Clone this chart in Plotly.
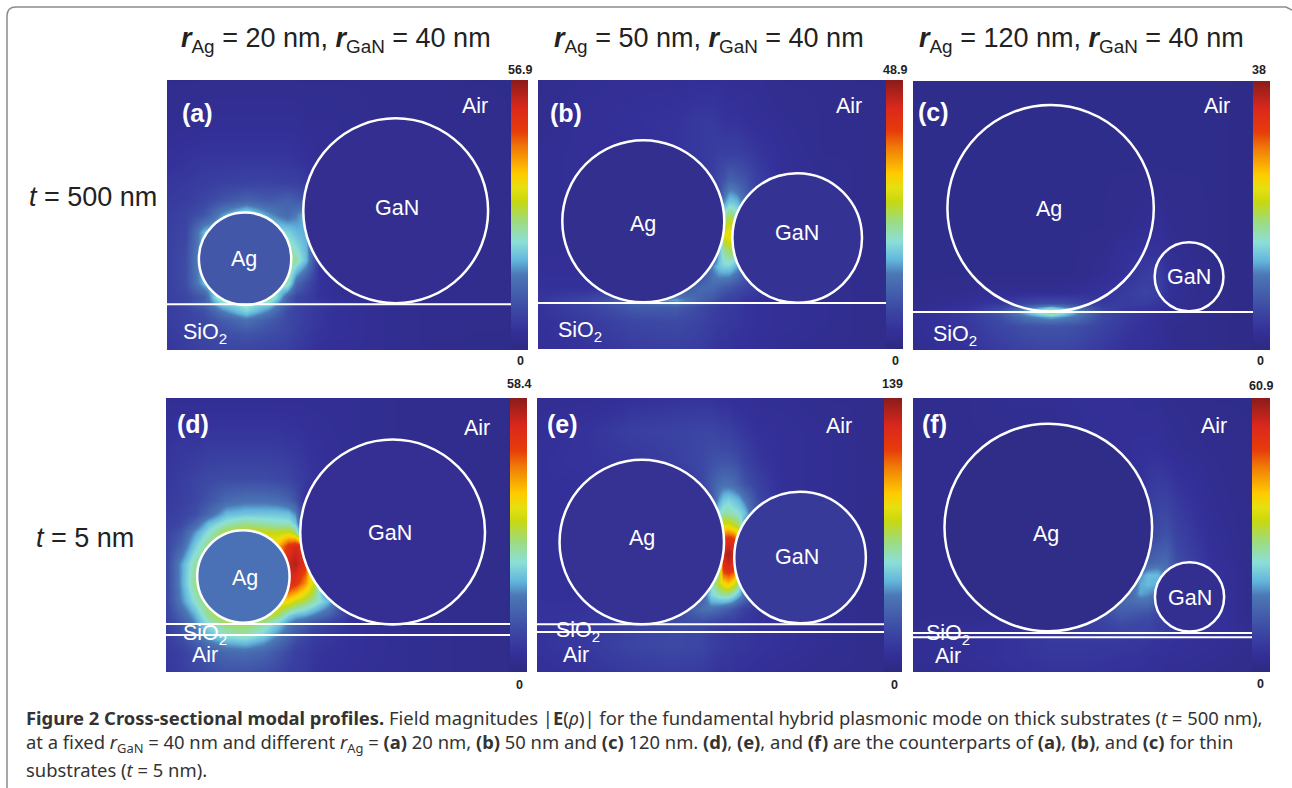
import plotly.graph_objects as go

W, H = 1292, 788

# ---- colour scale ------------------------------------------------------
COLORSCALE = [
    [0.00, "#2c2a80"], [0.07, "#34309a"], [0.155, "#3d4aa5"], [0.28, "#4c78b5"], [0.33, "#62b5dc"],
    [0.40, "#8cdfd8"], [0.475, "#9cdc80"], [0.55, "#c8d810"], [0.60, "#e5e010"],
    [0.65, "#ffcc00"], [0.75, "#f07a08"], [0.81, "#e63c0a"], [0.895, "#dc281c"],
    [1.00, "#8a1c1a"],
]

# ---- bar maxima -----------------------------------------------------------
MAX_A, MAX_B, MAX_C, MAX_D, MAX_E, MAX_F = 56.9, 48.9, 38, 58.4, 139, 60.9

# ---- fields: sampled in nm, values as percent of each panel's colour bar ----
A_X = [0, 8, 16, 24, 34, 44, 52, 56, 60, 66, 72, 90, 110, 130, 149]
A_Y = [0, 20, 34, 44, 52, 58, 66, 78, 88, 94, 97, 100, 104, 110, 117]
A_Z = [
    [4, 4, 4, 4, 4, 4, 4, 4, 4, 4, 4, 4, 4, 3, 3],
    [5, 5, 6, 6, 6, 6, 6, 6, 5, 5, 5, 4, 4, 4, 3],
    [7, 8, 9, 9, 9, 9, 9, 8, 7, 5, 5, 4, 4, 4, 3],
    [9, 10, 11, 12, 13, 13, 12, 12, 10, 6, 5, 4, 4, 4, 3],
    [10, 11, 14, 18, 22, 20, 22, 20, 18, 8, 5, 4, 4, 4, 3],
    [11, 13, 18, 30, 40, 30, 24, 28, 34, 8, 5, 4, 4, 4, 3],
    [12, 14, 34, 38, 38, 40, 38, 34, 32, 8, 5, 4, 4, 4, 3],
    [12, 16, 36, 38, 38, 40, 50, 44, 34, 8, 5, 4, 4, 4, 3],
    [12, 16, 34, 38, 38, 40, 44, 24, 16, 8, 5, 4, 4, 4, 3],
    [12, 14, 20, 50, 40, 50, 22, 14, 12, 8, 6, 4, 4, 4, 3],
    [12, 14, 22, 36, 42, 36, 20, 14, 12, 10, 8, 5, 4, 4, 4],
    [11, 13, 17, 28, 38, 28, 16, 13, 11, 9, 7, 5, 4, 4, 3],
    [11, 13, 15, 20, 26, 20, 15, 13, 11, 9, 7, 5, 4, 4, 3],
    [10, 12, 14, 16, 18, 16, 14, 12, 10, 8, 7, 5, 4, 3, 3],
    [9, 11, 13, 14, 14, 13, 12, 10, 9, 7, 6, 5, 4, 3, 3],
]

B_X = [0, 30, 60, 85, 100, 108, 112, 115, 118, 120, 123, 128, 135, 150, 175, 195, 215]
B_Y = [0, 25, 45, 62, 75, 85, 95, 105, 115, 128, 136, 140, 150, 166]
B_Z = [
    [4, 5, 6, 6, 6, 6, 6, 6, 5, 5, 5, 5, 5, 4, 4, 3, 3],
    [4, 6, 7, 8, 10, 10, 9, 8, 8, 8, 8, 7, 6, 5, 4, 4, 3],
    [5, 6, 6, 8, 10, 11, 12, 12, 12, 12, 12, 11, 9, 6, 4, 4, 3],
    [5, 6, 6, 6, 8, 12, 16, 18, 22, 22, 20, 18, 12, 6, 5, 4, 3],
    [5, 6, 6, 6, 7, 9, 16, 30, 36, 36, 34, 24, 10, 6, 5, 4, 3],
    [5, 6, 6, 6, 7, 8, 10, 46, 52, 50, 44, 20, 8, 6, 5, 4, 3],
    [5, 6, 6, 6, 7, 9, 12, 60, 62, 62, 56, 20, 9, 6, 5, 4, 3],
    [5, 6, 6, 6, 7, 9, 34, 46, 50, 50, 44, 20, 8, 6, 5, 4, 3],
    [6, 6, 6, 7, 8, 30, 36, 38, 38, 36, 32, 24, 10, 6, 5, 4, 3],
    [7, 7, 8, 14, 24, 24, 22, 20, 19, 18, 16, 14, 11, 6, 5, 4, 3],
    [9, 14, 24, 32, 22, 18, 15, 13, 12, 12, 11, 9, 7, 6, 5, 4, 3],
    [8, 13, 20, 20, 15, 12, 11, 10, 10, 10, 9, 8, 7, 6, 5, 4, 4],
    [7, 10, 14, 15, 13, 11, 10, 10, 9, 9, 9, 8, 7, 6, 5, 4, 3],
    [6, 8, 11, 12, 11, 9, 8, 8, 8, 7, 7, 7, 6, 5, 4, 4, 3],
]

C_X = [0, 60, 100, 130, 150, 160, 170, 190, 220, 250, 270, 285, 300, 345, 395]
C_Y = [0, 100, 170, 200, 225, 245, 258, 266, 270, 274, 285, 313]
C_Z = [
    [3, 3, 3, 3, 3, 3, 3, 3, 3, 3, 3, 3, 3, 3, 2],
    [3, 3, 3, 3, 3, 3, 3, 3, 3, 3, 3, 3, 3, 3, 2],
    [3, 3, 3, 3, 3, 3, 3, 3, 3, 4, 5, 6, 4, 3, 2],
    [3, 3, 3, 3, 3, 3, 3, 3, 4, 7, 8, 8, 5, 3, 2],
    [3, 3, 3, 3, 3, 3, 3, 3, 5, 8, 11, 12, 6, 3, 2],
    [3, 4, 5, 5, 5, 5, 5, 6, 8, 11, 13, 12, 6, 3, 2],
    [3, 6, 9, 14, 16, 16, 16, 14, 10, 11, 11, 9, 5, 3, 2],
    [4, 8, 16, 30, 42, 48, 42, 30, 14, 9, 8, 7, 5, 3, 2],
    [5, 10, 18, 32, 42, 48, 42, 30, 15, 10, 8, 7, 5, 3, 2],
    [5, 10, 16, 26, 30, 32, 30, 26, 15, 10, 8, 6, 5, 3, 2],
    [5, 9, 14, 17, 18, 18, 18, 17, 13, 9, 7, 6, 4, 3, 2],
    [4, 7, 11, 13, 14, 14, 14, 13, 10, 7, 6, 5, 4, 3, 2],
]

D_X = [0, 6, 12, 18, 26, 34, 42, 48, 53, 56, 60, 64, 70, 80, 100, 125, 149]
D_Y = [0, 20, 35, 44, 50, 54, 58, 64, 72, 80, 88, 94, 98, 102, 106, 110, 118]
D_Z = [
    [5, 5, 5, 5, 5, 5, 5, 5, 5, 5, 5, 5, 5, 5, 4, 4, 3],
    [8, 9, 9, 10, 10, 10, 10, 10, 9, 9, 8, 7, 6, 5, 4, 4, 3],
    [9, 11, 13, 15, 16, 16, 16, 15, 14, 12, 10, 8, 6, 5, 4, 4, 3],
    [10, 12, 14, 18, 24, 26, 26, 25, 22, 18, 7, 6, 6, 5, 4, 4, 3],
    [11, 13, 16, 24, 34, 36, 36, 36, 35, 30, 8, 6, 6, 5, 4, 4, 3],
    [12, 14, 22, 34, 42, 46, 44, 42, 42, 36, 8, 6, 6, 5, 4, 4, 3],
    [13, 18, 30, 40, 52, 56, 55, 54, 56, 50, 9, 6, 6, 5, 4, 4, 3],
    [14, 22, 36, 48, 56, 60, 62, 66, 85, 90, 88, 7, 6, 5, 4, 4, 3],
    [14, 30, 44, 50, 50, 50, 60, 78, 92, 95, 85, 40, 6, 5, 4, 4, 3],
    [14, 30, 46, 50, 50, 50, 60, 70, 90, 85, 72, 55, 10, 5, 4, 4, 3],
    [14, 28, 40, 52, 50, 50, 60, 64, 62, 56, 50, 44, 34, 6, 4, 4, 3],
    [13, 22, 32, 46, 56, 58, 56, 50, 38, 34, 32, 28, 22, 8, 4, 4, 3],
    [12, 18, 28, 40, 48, 50, 44, 36, 28, 24, 20, 16, 12, 7, 5, 4, 3],
    [11, 16, 24, 34, 42, 44, 38, 30, 24, 20, 16, 12, 9, 7, 5, 4, 3],
    [11, 14, 20, 26, 32, 34, 30, 24, 19, 15, 12, 10, 9, 7, 5, 4, 3],
    [10, 12, 16, 20, 24, 25, 23, 19, 15, 12, 11, 9, 8, 7, 5, 4, 3],
    [9, 11, 14, 16, 18, 18, 17, 15, 12, 11, 10, 8, 7, 6, 5, 4, 3],
]

E_X = [0, 30, 60, 85, 100, 106, 110, 113, 116, 119, 122, 126, 135, 150, 175, 195, 211]
E_Y = [0, 20, 38, 52, 62, 70, 78, 86, 95, 104, 112, 120, 128, 136, 140, 150, 167]
E_Z = [
    [5, 5, 7, 8, 8, 8, 7, 7, 7, 6, 6, 6, 5, 5, 4, 4, 3],
    [6, 8, 12, 13, 14, 14, 13, 12, 12, 11, 10, 9, 7, 6, 5, 4, 3],
    [7, 8, 9, 12, 15, 17, 18, 18, 18, 17, 16, 13, 9, 6, 5, 4, 3],
    [7, 7, 6, 6, 14, 20, 24, 26, 26, 25, 22, 18, 12, 6, 5, 4, 4],
    [7, 6, 6, 6, 7, 18, 30, 36, 38, 36, 34, 28, 14, 6, 5, 4, 3],
    [7, 6, 6, 6, 7, 8, 38, 44, 44, 42, 40, 36, 12, 6, 5, 4, 3],
    [7, 6, 6, 6, 7, 8, 11, 60, 60, 56, 52, 30, 8, 6, 5, 4, 3],
    [7, 6, 6, 6, 7, 9, 14, 82, 86, 84, 72, 20, 8, 6, 5, 4, 3],
    [7, 6, 6, 6, 8, 10, 15, 92, 96, 92, 80, 20, 9, 6, 5, 4, 3],
    [7, 6, 6, 6, 8, 9, 40, 84, 88, 84, 70, 20, 8, 6, 5, 4, 3],
    [7, 6, 6, 7, 8, 40, 54, 64, 68, 62, 50, 22, 8, 6, 5, 4, 3],
    [7, 6, 7, 8, 20, 38, 42, 44, 44, 40, 34, 26, 10, 6, 5, 4, 3],
    [8, 8, 9, 14, 26, 26, 24, 22, 20, 18, 15, 12, 8, 6, 5, 4, 3],
    [8, 9, 12, 16, 16, 14, 13, 12, 11, 11, 10, 9, 8, 6, 5, 4, 3],
    [8, 10, 13, 15, 14, 12, 11, 10, 10, 10, 10, 9, 8, 7, 5, 4, 3],
    [8, 10, 14, 15, 14, 12, 11, 10, 10, 9, 9, 9, 8, 7, 5, 4, 3],
    [6, 8, 10, 11, 10, 9, 8, 8, 8, 8, 7, 7, 6, 5, 4, 4, 3],
]

F_X = [0, 60, 120, 160, 200, 240, 262, 272, 282, 292, 305, 345, 392]
F_Y = [0, 60, 120, 160, 190, 205, 215, 225, 235, 250, 262, 270, 280, 300, 317]
F_Z = [
    [4, 4, 5, 5, 6, 6, 5, 5, 5, 4, 4, 3, 3],
    [4, 4, 4, 4, 5, 6, 7, 7, 7, 6, 5, 4, 3],
    [4, 4, 4, 4, 4, 4, 6, 11, 13, 13, 10, 5, 3],
    [4, 4, 4, 4, 4, 4, 8, 14, 16, 18, 13, 6, 3],
    [4, 4, 4, 4, 4, 4, 16, 22, 24, 24, 16, 7, 3],
    [4, 4, 4, 4, 4, 5, 30, 34, 34, 28, 16, 8, 3],
    [4, 4, 4, 4, 4, 8, 32, 34, 32, 24, 14, 8, 3],
    [4, 4, 4, 4, 4, 16, 32, 30, 28, 20, 12, 8, 3],
    [4, 4, 4, 4, 5, 24, 26, 26, 20, 14, 10, 8, 3],
    [4, 4, 4, 4, 10, 20, 18, 17, 14, 12, 10, 8, 3],
    [4, 5, 6, 8, 11, 15, 14, 14, 12, 11, 10, 8, 4],
    [5, 6, 7, 9, 11, 13, 14, 13, 12, 11, 10, 8, 4],
    [5, 6, 8, 10, 10, 10, 9, 9, 8, 8, 7, 6, 4],
    [5, 6, 8, 9, 9, 8, 8, 7, 7, 6, 6, 5, 3],
    [4, 5, 7, 8, 8, 7, 7, 6, 6, 5, 5, 4, 3],
]

# ---- geometry of each panel in nm (circle centre, radius) ------------------
RADII_AG = [20, 50, 120, 20, 50, 120]
RADII_GAN = [40, 40, 40, 40, 40, 40]
AG_CENTRE = [(33.8, 77.4), (65.0, 87.2), (160.0, 148.0), (33.5, 77.3), (63.7, 87.6), (156.4, 149.7)]
GAN_CENTRE = [(99.0, 56.6), (160.0, 97.5), (321.0, 227.6), (98.1, 58.0), (159.9, 97.0), (319.7, 230.0)]
INTERFACES = [[97.1], [137.7], [268.6], [97.8, 102.6], [137.6, 142.2], [271.7, 276.7]]
AG_FILL = ["#4257a8", "#322f8e", None, "#4a70b5", "#353293", "#2f2d88"]
GAN_FILL = ["#332e90", "#343292", None, "#352f94", "#383a9a", "#332f90"]

# panel frame on the page: left, right, top, bottom (px), bar right, px per nm
FRAMES = [
    (167, 511, 80, 350, 528, 2.31),
    (538, 886, 80, 349, 903, 1.62),
    (913, 1253, 81, 350, 1270, 0.86),
    (166, 510, 398, 672, 527, 2.31),
    (537, 884, 398, 672, 902, 1.645),
    (913, 1252, 398, 672, 1270, 0.865),
]
FIELDS = [(A_X, A_Y, A_Z, MAX_A), (B_X, B_Y, B_Z, MAX_B), (C_X, C_Y, C_Z, MAX_C),
          (D_X, D_Y, D_Z, MAX_D), (E_X, E_Y, E_Z, MAX_E), (F_X, F_Y, F_Z, MAX_F)]
MAX_LABELS = ["56.9", "48.9", "38", "58.4", "139", "60.9"]
PANEL_LETTERS = ["(a)", "(b)", "(c)", "(d)", "(e)", "(f)"]

HEADERS = [
    ("<b><i>r</i></b><sub>Ag</sub> = 20 nm, <b><i>r</i></b><sub>GaN</sub> = 40 nm", 336),
    ("<b><i>r</i></b><sub>Ag</sub> = 50 nm, <b><i>r</i></b><sub>GaN</sub> = 40 nm", 709),
    ("<b><i>r</i></b><sub>Ag</sub> = 120 nm, <b><i>r</i></b><sub>GaN</sub> = 40 nm", 1081),
]
ROW_LABELS = [("<i>t</i> = 500 nm", 93, 197), ("<i>t</i> = 5 nm", 85, 538)]

# page-pixel text positions
MAX_POS = [(520, 70), (895, 70), (1259, 70), (519, 384), (892, 384), (1261, 386)]
ZERO_POS = [(520, 361), (895, 361), (1260, 361), (519, 685), (894, 685), (1260, 684)]
LETTER_POS = [(197, 113), (566, 113), (933, 112), (193, 424), (562, 424), (934, 424)]
AIR_POS = [(475, 106), (849, 106), (1217, 106), (477, 428), (839, 426), (1214, 426)]
AG_POS = [(244, 259), (643, 224), (1049, 209), (245, 578), (642, 538), (1046, 534)]
GAN_POS = [(397, 208), (797, 233), (1189, 277), (390, 533), (797, 557), (1190, 598)]
SIO_POS = [(205, 333), (580, 331), (955, 335), (205, 634), (578, 631), (948, 634)]
AIR2_POS = [None, None, None, (205, 655), (576, 655), (948, 656)]

CAPTION = [
    ("<b>Figure 2 Cross-sectional modal profiles.</b> Field magnitudes |<b>E</b>(<i>ρ</i>)| for the fundamental "
     "hybrid plasmonic mode on thick substrates (<i>t</i> = 500 nm),", 717),
    ("at a fixed <i>r</i><sub>GaN</sub> = 40 nm and different <i>r</i><sub>Ag</sub> = <b>(a)</b> 20 nm, <b>(b)</b> 50 nm "
     "and <b>(c)</b> 120 nm. <b>(d)</b>, <b>(e)</b>, and <b>(f)</b> are the counterparts of <b>(a)</b>, <b>(b)</b>, "
     "and <b>(c)</b> for thin", 743),
    ("substrates (<i>t</i> = 5 nm).", 769),
]

TEXT_FONT = "Liberation Sans"
CAPTION_FONT = "Noto Sans"

fig = go.Figure()
shapes, annos = [], []


def px(x):
    return x / W


def py(y):
    return 1 - y / H


def label(text, x, y, size, color="white", family=TEXT_FONT, anchor="center", weight="normal"):
    annos.append(dict(text=text, x=px(x), y=py(y), xref="paper", yref="paper", showarrow=False,
                      xanchor=anchor, yanchor="middle", align=anchor,
                      font=dict(size=size, color=color, family=family, weight=weight)))


for i, ((left, right, top, bottom, bar_right, scale), (xs, ys, zs, zmax)) in enumerate(zip(FRAMES, FIELDS)):
    n = "" if i == 0 else str(i + 1)
    width_nm = (right - left) / scale
    height_nm = (bottom - top) / scale
    fig.add_trace(go.Heatmap(
        x=xs, y=ys, z=[[v * zmax / 100 for v in row] for row in zs],
        zmin=0, zmax=zmax, zsmooth="best", colorscale=COLORSCALE, hoverinfo="skip",
        xaxis="x" + n, yaxis="y" + n,
        colorbar=dict(x=px(right), xanchor="left", y=py(bottom), yanchor="bottom",
                      len=bottom - top, lenmode="pixels", thickness=bar_right - right,
                      thicknessmode="pixels", xpad=0, ypad=0, outlinewidth=0, borderwidth=0,
                      showticklabels=False, ticks=""),
    ))
    ax = dict(visible=False, showgrid=False, zeroline=False, fixedrange=True)
    fig.update_layout({
        "xaxis" + n: dict(ax, domain=[px(left), px(right)], range=[0, width_nm],
                          anchor="y" + n),
        "yaxis" + n: dict(ax, domain=[py(bottom), py(top)], range=[height_nm, 0],
                          anchor="x" + n),
    })
    xr, yr = "x" + n, "y" + n
    for (cx, cy), r, fill in ((AG_CENTRE[i], RADII_AG[i], AG_FILL[i]),
                              (GAN_CENTRE[i], RADII_GAN[i], GAN_FILL[i])):
        shapes.append(dict(type="circle", xref=xr, yref=yr, x0=cx - r, x1=cx + r, y0=cy - r, y1=cy + r,
                           line=dict(color="white", width=2.5),
                           fillcolor=fill if fill else "rgba(0,0,0,0)"))
    for level in INTERFACES[i]:
        shapes.append(dict(type="line", xref=xr, yref=yr, x0=0, x1=width_nm, y0=level, y1=level,
                           line=dict(color="white", width=2)))
    label(MAX_LABELS[i], *MAX_POS[i], 12.5, "#222222", weight="bold")
    label("0", *ZERO_POS[i], 12.5, "#222222", weight="bold")
    label(PANEL_LETTERS[i], *LETTER_POS[i], 25, weight="bold")
    label("Air", *AIR_POS[i], 21.5)
    label("Ag", *AG_POS[i], 21.5)
    label("GaN", *GAN_POS[i], 21.5)
    label("SiO<sub>2</sub>", *SIO_POS[i], 21.5)
    if AIR2_POS[i]:
        label("Air", *AIR2_POS[i], 21.5)

for text, x in HEADERS:
    label(text, x, 39.5, 27, "#222222")
for text, x, y in ROW_LABELS:
    label(text, x, y, 27, "#222222")
for text, y in CAPTION:
    label(text, 24, y, 18.4, "#333333", CAPTION_FONT, "left")

# page frame
shapes.append(dict(type="path", xref="paper", yref="paper", line=dict(color="#8c8c8c", width=1.5),
                   path=f"M {px(7)} {py(788)} L {px(7)} {py(16)} Q {px(7)} {py(7)} {px(16)} {py(7)} L {px(1286)} {py(7)} L {px(1292)} {py(10)}"))

fig.update_layout(width=W, height=H, margin=dict(l=0, r=0, t=0, b=0, autoexpand=False),
                  paper_bgcolor="white", plot_bgcolor="white", showlegend=False,
                  shapes=shapes, annotations=annos)
fig.write_html("out.html", post_script="document.body.style.margin='0';document.body.style.overflow='hidden';",
               config={"displayModeBar": False})
